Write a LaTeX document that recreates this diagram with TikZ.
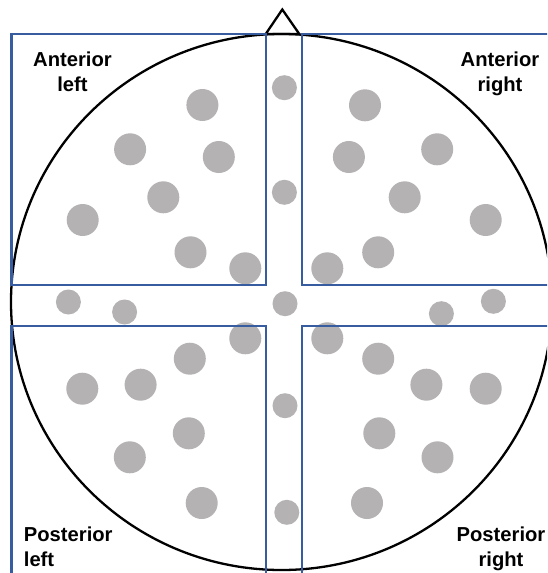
\documentclass[tikz,border=0pt]{standalone}
\usepackage{fontspec}
\setmainfont{Liberation Sans}
\definecolor{frameblue}{RGB}{55,92,160}
\definecolor{dotgray}{RGB}{180,178,179}
\tikzset{
  region/.style={draw=frameblue, line width=2.5pt},
  head/.style={draw=black, line width=2.3pt},
  bigdot/.style={fill=dotgray},
  lbl/.style={inner sep=0pt, font=\fontsize{20.2}{25}\selectfont\bfseries}
}
\begin{document}
\begin{tikzpicture}[x=1pt,y=-1pt]
\useasboundingbox (0,0) rectangle (547,573);
\fill[white] (0,0) rectangle (547,573);
\clip (0,0) rectangle (547,573);
% large electrodes
\foreach \px/\py in {202.4/105, 130.1/149.3, 218.8/157, 163.3/197.3, 82.7/220, 190.5/252.3, 245.3/268.3,
  365/105.3, 437.2/149.3, 348.9/157, 404.7/197.3, 485.7/220, 378.2/252.3, 327.3/268.3,
  245.3/338.3, 189.8/358.7, 140.6/384.7, 82.3/388.7, 188.8/433.3, 129.8/457.3, 201.7/503,
  327.3/338.3, 378.2/358.7, 426.4/384.7, 485.7/388.7, 379.3/433.3, 437.5/457.3, 367/503}
  \fill[bigdot] (\px,\py) circle[radius=16];
% small electrodes (midline and band)
\foreach \px/\py in {284.4/87.7, 284.4/192.3, 285/303.7, 285/405.7, 286.8/512.3,
  68.4/302, 124.6/312, 441.4/313.7, 493.4/301.3}
  \fill[bigdot] (\px,\py) circle[radius=12.5];
% head outline
\draw[head] (281.5,302) ellipse[x radius=270.5, y radius=268];
\draw[head, line join=miter] (265.7,34) -- (282.3,9.5) -- (299.3,34) -- cycle;
% regions
\draw[region] (11.5,34) rectangle (266,285);
\draw[region] (302,34) rectangle (570,285);
\draw[region] (11.5,326) rectangle (266,600);
\draw[region] (302,326) rectangle (570,600);
% labels
\node[lbl, align=center, anchor=base] (al) at (72.5,91.5) {Anterior\\left};
\node[lbl, align=center, anchor=base] (ar) at (500,91.5) {Anterior\\right};
\node[lbl, align=left, anchor=base west] (pl) at (23.7,566.3) {Posterior\\left};
\node[lbl, align=center, anchor=base] (pr) at (501,566.3) {Posterior\\right};
\end{tikzpicture}
\end{document}
